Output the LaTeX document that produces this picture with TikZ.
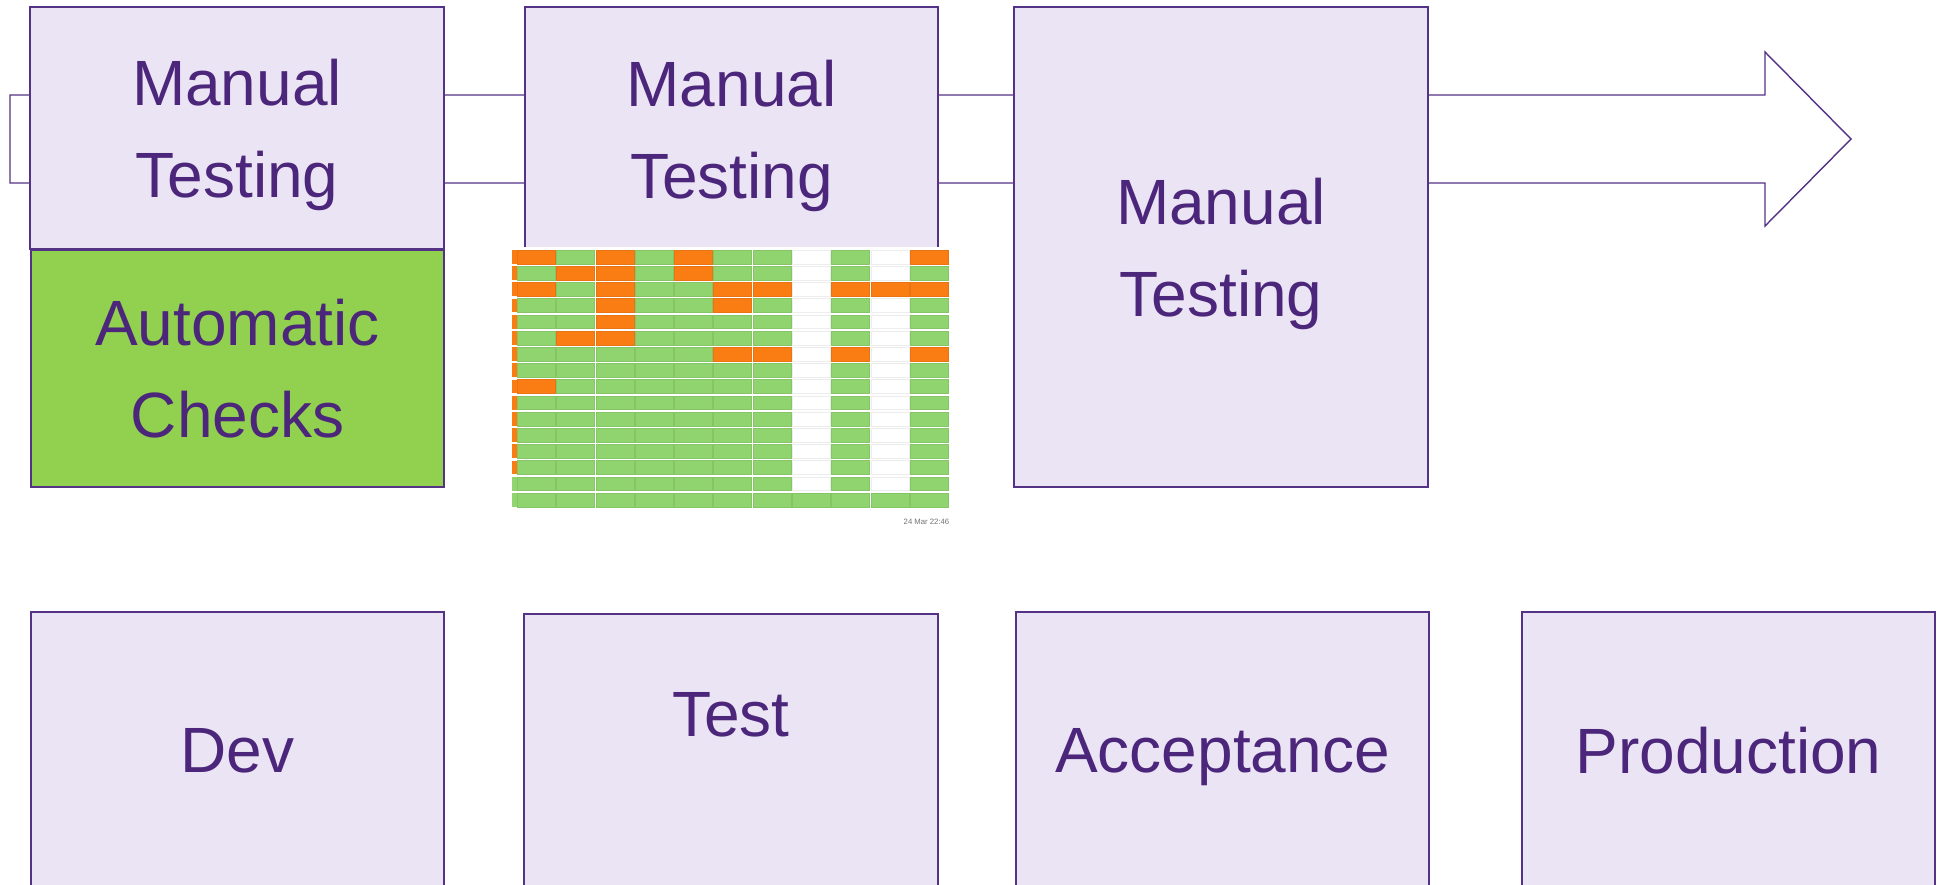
\documentclass[tikz,border=0pt]{standalone}
\usepackage{fontspec}
\setmainfont{Liberation Sans}

\definecolor{stageline}{RGB}{84,50,134}
\definecolor{stagetext}{RGB}{75,38,122}
\definecolor{stagefill}{RGB}{234,228,245}
\definecolor{checkfill}{RGB}{146,208,80}
\definecolor{cello}{RGB}{250,125,20}
\definecolor{cellg}{RGB}{143,212,110}
\definecolor{cellw}{RGB}{255,255,255}

\tikzset{
	stage/.style={draw=stageline, line width=0.55pt, fill=stagefill, text=stagetext,
		minimum width=4.13cm, align=center, inner sep=0pt, text depth=0pt,
		font=\fontsize{18.2}{26.2}\selectfont},
	stagename/.style={text=stagetext, inner sep=0pt, text depth=0pt,
		font=\fontsize{18.2}{26.2}\selectfont}
}

\begin{document}
\begin{tikzpicture}[x=0.01cm,y=-0.01cm]
	\useasboundingbox (0,0) rectangle (1943,884);

	% draw the big arrow behind the boxes
	\draw[stageline, line width=0.4pt, fill=white] (10,95) -- (1765,95) -- (1765,52)
		-- (1851,139) -- (1765,226) -- (1765,183) -- (10,183) -- cycle;

	% draw the testing boxes
	\node[stage, minimum height=2.42cm] (manual1) at (237,128) {Manual\\Testing};
	\node[stage, fill=checkfill, minimum height=2.37cm] (checks) at (237.5,368.5) {Automatic\\Checks};
	\node[stage, minimum height=2.45cm] (manual2) at (731.5,129.5) {Manual\\Testing};
	\node[stage, minimum height=4.8cm] (manual3) at (1221,247) {Manual\\Testing};

	% the dashboard screenshot
	\fill[white] (509,247) rectangle (955,530);
	\foreach [count=\r] \row in {
		{o,g,o,g,o,g,g,w,g,w,o},
		{g,o,o,g,o,g,g,w,g,w,g},
		{o,g,o,g,g,o,o,w,o,o,o},
		{g,g,o,g,g,o,g,w,g,w,g},
		{g,g,o,g,g,g,g,w,g,w,g},
		{g,o,o,g,g,g,g,w,g,w,g},
		{g,g,g,g,g,o,o,w,o,w,o},
		{g,g,g,g,g,g,g,w,g,w,g},
		{o,g,g,g,g,g,g,w,g,w,g},
		{g,g,g,g,g,g,g,w,g,w,g},
		{g,g,g,g,g,g,g,w,g,w,g},
		{g,g,g,g,g,g,g,w,g,w,g},
		{g,g,g,g,g,g,g,w,g,w,g},
		{g,g,g,g,g,g,g,w,g,w,g},
		{g,g,g,g,g,g,g,w,g,w,g},
		{g,g,g,g,g,g,g,g,g,g,g}} {
			\foreach [count=\c] \k in \row
				\filldraw[fill=cell\k, draw=cell\k!93!black, line width=0.15pt]
					({517.5+(\c-1)*39.25},{250+(\r-1)*16.2}) rectangle ++(38,13.8);
		}
	% the cut off column at the left edge
	\foreach [count=\r] \k in {o,o,o,o,o,o,o,o,o,o,o,o,o,o,g,g}
		\fill[fill=cell\k] (512,{250+(\r-1)*16.2}) rectangle ++(4.5,13.8);
	\node[font=\fontsize{2.2}{2.6}\selectfont, text=black!55, anchor=base east, inner sep=0pt]
		(stamp) at (950,524) {24 Mar 22:46};

	% draw the environments
	\node[stage, minimum height=2.76cm] (dev) at (237.5,750) {Dev};
	\node[stage, minimum height=2.74cm] (test) at (731,751) {};
	\node[stagename] (testname) at (731,714) {Test};
	\node[stage, minimum height=2.76cm] (acc) at (1222.5,750) {Acceptance};
	\node[stage, minimum height=2.76cm] (prod) at (1728.5,750) {Production};
\end{tikzpicture}
\end{document}
